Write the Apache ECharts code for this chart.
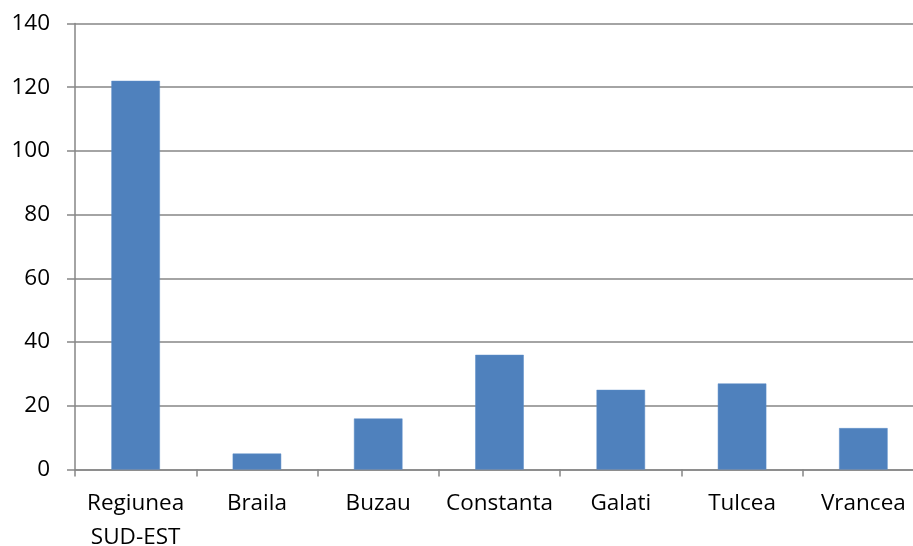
<!DOCTYPE html>
<html>
<head>
<meta charset="utf-8">
<script src="https://cdn.jsdelivr.net/npm/echarts@6/dist/echarts.min.js"></script>
<style>
html,body{margin:0;padding:0;background:#fff;}
#chart{width:913px;height:546px;}
</style>
</head>
<body>
<div id="chart"></div>
<script>
const categories = ["Regiunea\nSUD-EST", "Braila", "Buzau", "Constanta", "Galati", "Tulcea", "Vrancea"];
const values = [122, 5, 16, 36, 25, 27, 13];
const yTicks = { min: 0, max: 140, interval: 20 };

const chart = echarts.init(document.getElementById('chart'), null, { renderer: 'canvas' });
const font = '"Open Sans", sans-serif';
chart.setOption({
  animation: false,
  backgroundColor: '#ffffff',
  grid: { left: 75, top: 23.5, width: 849, height: 446, containLabel: false, outerBoundsMode: 'none' },
  xAxis: {
    type: 'category',
    data: categories,
    boundaryGap: true,
    axisLine: { show: true, lineStyle: { color: '#868686', width: 1.5 } },
    axisTick: { show: true, length: 7, lineStyle: { color: '#868686', width: 1.5 } },
    axisLabel: { color: '#000', fontFamily: font, fontSize: 22.5, margin: 17, lineHeight: 34, interval: 0 },
    splitLine: { show: false }
  },
  yAxis: {
    type: 'value',
    min: yTicks.min, max: yTicks.max, interval: yTicks.interval,
    axisLine: { show: true, lineStyle: { color: '#868686', width: 1.5 } },
    axisTick: { show: true, length: 8, lineStyle: { color: '#868686', width: 1.5 } },
    axisLabel: { color: '#000', fontFamily: font, fontSize: 22.5, margin: 25 },
    splitLine: { show: true, lineStyle: { color: '#868686', width: 1.5 } }
  },
  series: [{
    type: 'bar',
    data: values,
    barWidth: '40%',
    itemStyle: { color: '#4F81BD', borderColor: '#5B8CC8', borderWidth: 0.5 }
  }]
});
</script>
</body>
</html>
